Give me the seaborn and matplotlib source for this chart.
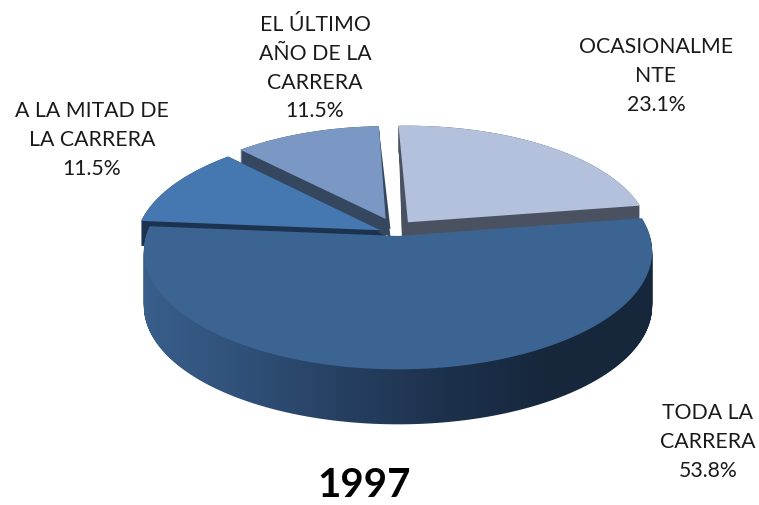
import numpy as np
import matplotlib
matplotlib.use("Agg")
import matplotlib.pyplot as plt
import seaborn as sns
from matplotlib.path import Path
from matplotlib.transforms import Transform, Affine2D
from matplotlib.colors import LinearSegmentedColormap

# ---- data ----
categories = ["OCASIONALME\nNTE", "EL ÚLTIMO\nAÑO DE LA\nCARRERA", "A LA MITAD DE\nLA CARRERA", "TODA LA\nCARRERA"]
values = [23.1, 11.5, 11.5, 53.8]
year = "1997"

# ---- style ----
face_colors = ["#b3c1dc", "#7b97c3", "#4577b0", "#3b6493"]
wall_colors = ["#4a5261", "#34475f", "#1c3350", "#1c3350"]
side_stops = ["#3a5f8c", "#2f5078", "#263f60", "#1c304b", "#16273b", "#16273b"]
START = 9
centers = [(0.04, 0.12), (-0.05, 0.15), (-0.07, 0.05), (0.0, 0.0)]
radii = [0.965, 0.93, 0.97, 1.0]
wall_centers = [(0.016, 0.02), (-0.03, 0.06), (-0.05, 0.0), None]
wall_theta_trim = [(0, -1.5), (1, -1), (0, 0), None]
label_pos = [(656, 37), (315, 15), (92, 101), (708, 403)]

sns.set_theme(style="white")
plt.rcParams["font.family"] = ["Lato", "DejaVu Sans"]

CX, CY, R, H, P = 398.0, 237.0, 252.0, 116.0, 0.13


class Persp(Transform):
    """Tilted-disc projection from pie units to image pixels."""
    input_dims = output_dims = 2
    has_inverse = False
    is_separable = False

    def __init__(self, dy=0.0):
        super().__init__()
        self.dy = dy

    def transform_non_affine(self, v):
        v = np.asarray(v, float)
        s = 1.0 / (1.0 + P * v[:, 1])
        return np.column_stack([CX + R * v[:, 0] * s, CY - H * v[:, 1] * s + self.dy])

    def transform_path_non_affine(self, path):
        return Path(self.transform_non_affine(dense(path)), closed=True)


def dense(path):
    # flatten the curves at a fine scale so that the rim stays smooth
    poly = path.to_polygons(Affine2D().scale(2000), closed_only=True)[0] / 2000.0
    out = []
    for a, b in zip(poly[:-1], poly[1:]):
        out.append(np.linspace(a, b, 6, endpoint=False))
    out.append(poly[:1])
    return np.vstack(out)


fig = plt.figure(figsize=(7.59, 5.06), dpi=100, facecolor="white")
ax = fig.add_axes([0, 0, 1, 1])


def pie_layer(cols, which, cent, rad, dy=0.0, zorder=2, trim=None):
    wedges, _ = ax.pie(values, startangle=START, colors=cols, radius=1.0,
                       wedgeprops=dict(linewidth=0))
    for i, w in enumerate(wedges):
        if i not in which:
            w.remove()
            continue
        if cent[i] is not None:
            w.set_center(cent[i])
        w.set_radius(rad[i])
        if trim and trim[i] is not None:
            w.set_theta1(w.theta1 + trim[i][0])
            w.set_theta2(w.theta2 + trim[i][1])
        w.set_transform(Persp(dy) + ax.transData)
        w.set_zorder(zorder)
    return wedges


# walls of the three raised slices
for i, z in zip([0, 1, 2], [2, 3, 4]):
    for dy in np.arange(0, 26, 1.0):
        pie_layer(wall_colors, [i], centers, radii, dy=dy, zorder=z)
    pie_layer(wall_colors, [i], wall_centers, radii, dy=0, zorder=z, trim=wall_theta_trim)
    pie_layer(wall_colors, [i], wall_centers, radii, dy=8, zorder=z, trim=wall_theta_trim)
    pie_layer(face_colors, [i], centers, radii, dy=0, zorder=z + 0.5)

# side of the big slice: a horizontal gradient clipped to the extruded outline
main = pie_layer(face_colors, [3], centers, radii, dy=0, zorder=6)[3]
pieces = [Path(Persp(dy).transform_non_affine(dense(main.get_path())), closed=True)
          for dy in np.arange(1, 56, 1.0)]
clip = Path.make_compound_path(*pieces)
cmap = LinearSegmentedColormap.from_list("side", sns.blend_palette(side_stops, 64))
im = ax.imshow(np.linspace(0, 1, 256)[None, :], cmap=cmap, extent=(140, 660, 440, 200),
               aspect="auto", zorder=5.5, interpolation="bilinear")
im.set_clip_path(clip, ax.transData)

ax.set_xlim(0, 759)
ax.set_ylim(506, 0)
ax.set_aspect("auto")
ax.axis("off")

for name, val, (x, y) in zip(categories, values, label_pos):
    ax.text(x, y, f"{name}\n{val:.1f}%", ha="center", va="top",
            fontsize=15.3, color="#1a1a1a", linespacing=1.55, zorder=10)

ax.text(364, 497, year, ha="center", va="baseline", fontsize=29, fontweight="bold",
        color="black", zorder=10)

fig.savefig("out.png", dpi=100)
